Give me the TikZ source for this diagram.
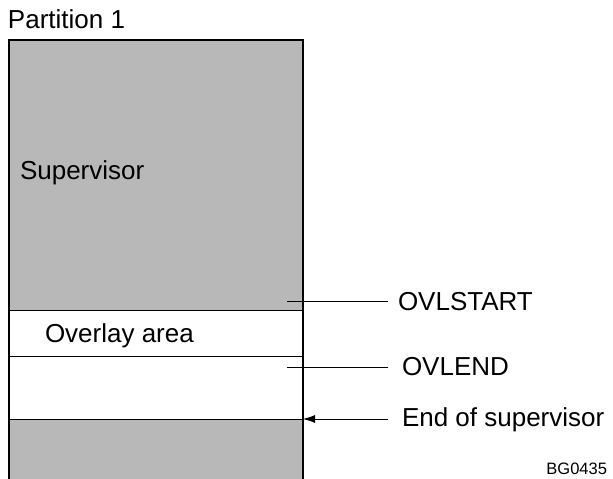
\documentclass[tikz,border=0pt]{standalone}
\usepackage{fontspec}
\setmainfont{Liberation Sans}
\usetikzlibrary{arrows.meta}
\usetikzlibrary{positioning}

\begin{document}
\begin{tikzpicture}[x=1pt, y=1pt, >={Latex[length=12pt,width=8pt]}]
        \tikzstyle{every node}=[inner sep=0pt, outer sep=0pt, font=\fontsize{26}{30}\selectfont]
        \tikzstyle{lbl}=[anchor=base west]
        \tikzstyle{shade}=[fill=black!28, draw=none]
        \tikzstyle{lead}=[line width=0.8pt]
        \useasboundingbox (0,0) rectangle (613,479);
        % memory regions
        \fill[shade] (9,169) rectangle (303,439);
        \fill[shade] (9,0) rectangle (303,60);
        \draw[line width=1.1pt] (9,0) -- (9,439) -- (303,439) -- (303,0);
        \draw[line width=0.9pt] (9,169) -- (303,169);
        \draw[line width=0.9pt] (9,123) -- (303,123);
        \draw[line width=0.9pt] (9,60) -- (303,60);
        % texts
        \node[lbl] (part) at (8,450) {Partition 1};
        \node[lbl] (sup) at (20,299) {Supervisor};
        \node[lbl] (ovl) at (45,136) {Overlay area};
        \node[lbl] (ovlstart) at (398,168) {OVLSTART};
        \node[lbl] (ovlend) at (402,103) {OVLEND};
        \node[lbl] (eos) at (402,52) {End of supervisor};
        \node[anchor=base east, font=\fontsize{16.5}{20}\selectfont] (fig) at (607,4) {BG0435};
        % pointers
        \coordinate (ps) at (287,178);
        \coordinate (pe) at (287,112);
        \coordinate (pb) at (303,60);
        \draw[lead] (ps) -- ([xshift=-10pt]ps -| ovlstart.west);
        \draw[lead] (pe) -- ([xshift=-14pt]pe -| ovlend.west);
        \draw[lead,<-] (pb) -- ([xshift=-14pt]pb -| eos.west);
      \end{tikzpicture}
\end{document}
